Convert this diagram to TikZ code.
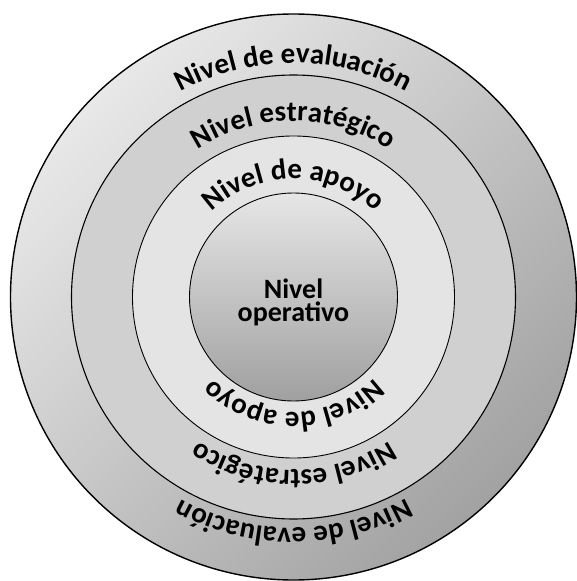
\documentclass[tikz,border=0pt]{standalone}
\usepackage{fontspec}
\setmainfont{Carlito}
\usetikzlibrary{decorations.text}

\definecolor{evallight}{HTML}{E8E8E8}
\definecolor{evaldark}{HTML}{A2A2A2}
\definecolor{estrgray}{HTML}{D0D0D0}
\definecolor{apoyogray}{HTML}{E4E4E4}
\definecolor{operlight}{HTML}{E6E6E6}
\definecolor{operdark}{HTML}{A0A0A0}

\newcommand{\ringfont}{\bfseries\fontsize{29}{29}\selectfont}

\begin{document}
\begin{tikzpicture}[x=1pt,y=1pt]
\tikzstyle{ring} = [circle, draw, inner sep=0pt, line width=0.9pt]
\tikzstyle{arctext} = [decorate, decoration={text along path, text align=center}]
\tikzstyle{centertext} = [text centered, align=center, font=\bfseries\fontsize{28}{23}\selectfont]

\useasboundingbox (-293.5,-284) rectangle (282.5,297);

\node [ring, minimum size=566pt, line width=1.4pt, top color=evallight,
    bottom color=evaldark, shading angle=45] (evaluacion) at (0,0) {};
\node [ring, minimum size=444pt, line width=1.1pt, fill=estrgray] (estrategico) at (0,0) {};
\node [ring, minimum size=322pt, fill=apoyogray] (apoyo) at (0,0) {};
\node [ring, minimum size=208pt, top color=operlight, bottom color=operdark] (operativo) at (0,0) {};

\node [centertext, yshift=-5pt] (operativolabel) at (operativo.center) {Nivel\\operativo};

% upper labels
\path [arctext, decoration={text={|\ringfont|Nivel de evaluación}}]
    (160:234) arc[start angle=160, end angle=20, radius=234];
\path [arctext, decoration={text={|\ringfont|Nivel estratégico}}]
    (160:176) arc[start angle=160, end angle=20, radius=176];
\path [arctext, decoration={text={|\ringfont|Nivel de apoyo}}]
    (160:118) arc[start angle=160, end angle=20, radius=118];

% lower labels
\path [arctext, decoration={text={|\ringfont|Nivel de evaluación}}]
    (-20:231) arc[start angle=-20, end angle=-160, radius=231];
\path [arctext, decoration={text={|\ringfont|Nivel estratégico}}]
    (-20:173) arc[start angle=-20, end angle=-160, radius=173];
\path [arctext, decoration={text={|\ringfont|Nivel de apoyo}}]
    (-20:115) arc[start angle=-20, end angle=-160, radius=115];

\end{tikzpicture}
\end{document}
